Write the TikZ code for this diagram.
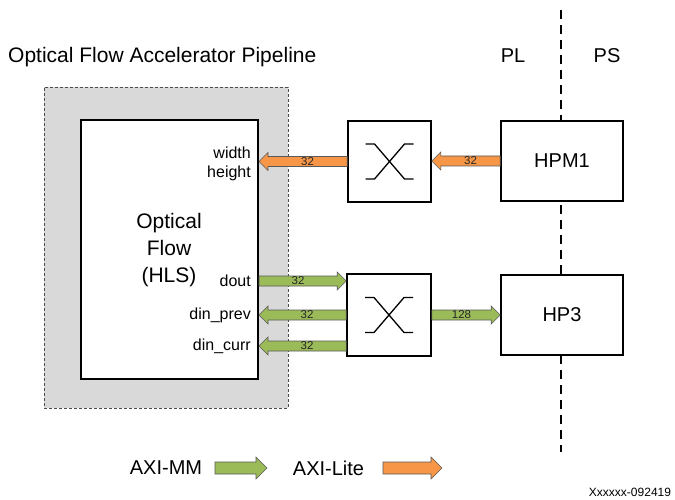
\documentclass[tikz,border=0pt]{standalone}
\usepackage{fontspec}
\setmainfont{Liberation Sans}
\usetikzlibrary{calc}

\definecolor{axigreen}{HTML}{9BBB59}
\definecolor{axiorange}{HTML}{F79646}
\definecolor{pipegrey}{HTML}{D9D9D9}

% sizes of the bus arrows
\newcommand{\shafthw}{5pt}
\newcommand{\headhw}{9pt}
\newcommand{\headlen}{9pt}

% bus arrow: colour, from, to, width label
\newcommand{\bus}[4]{%
  \draw[busline, fill=#1] let \p1=(#2), \p2=(#3),
      \n1={\x2>\x1 ? \x2-\headlen : \x2+\headlen} in
    (\x1,\y1+\shafthw) -- ({\n1+0pt},\y1+\shafthw) -- ({\n1+0pt},\y1+\headhw)
    -- (\x2,\y1) -- ({\n1+0pt},\y1-\headhw) -- ({\n1+0pt},\y1-\shafthw)
    -- (\x1,\y1-\shafthw) -- cycle
    ({(\x1+\n1)/2+0pt},\y1) node[buslabel] {#4};}

\tikzset{
  region/.style={draw=black!70, fill=pipegrey, line width=0.8pt, dash pattern=on 3pt off 2pt, inner sep=0},
  block/.style={draw, fill=white, line width=1.6pt, inner sep=0, font=\fontsize{20}{24}\selectfont},
  port/.style={anchor=east, inner sep=0, font=\fontsize{16}{19}\selectfont},
  buslabel/.style={inner sep=0, text=black!85, font=\fontsize{11.5}{13}\selectfont},
  busline/.style={draw=black!65, line width=0.6pt, line join=miter},
  xsym/.style={line width=1.3pt},
  big/.style={font=\fontsize{20}{24}\selectfont}
}

\begin{document}
\begin{tikzpicture}[x=1pt, y=-1pt]
\useasboundingbox (0,0) rectangle (675,500);

% accelerator pipeline
\node[big, anchor=west, inner sep=0, font=\fontsize{21}{25}\selectfont] (title) at (8,57) {Optical Flow Accelerator Pipeline};
\node[region, minimum width=244, minimum height=321] (pipe) at (166,247.5) {};
\node[block, line width=2pt, minimum width=177, minimum height=259] (of) at (169.5,249.5) {};
\node[align=center, font=\fontsize{21}{27}\selectfont] (ofname) at (169,250) {Optical\\Flow\\(HLS)};

% ports
\node[port] (lwidth) at (251,153) {width};
\node[port] (lheight) at (251,173) {height};
\node[port] (dout) at (251,281) {dout};
\node[port] (dinprev) at (251,315) {din\_prev};
\node[port] (dincurr) at (251,346) {din\_curr};

% PL / PS boundary
\coordinate (divtop) at (561,10);
\coordinate (divbot) at (561,452);
\draw[line width=1.8pt, dash pattern=on 9pt off 6pt] (divtop) -- (divbot);
\node[big] (pl) at (513,56) {PL};
\node[big] (ps) at (607,56) {PS};

% interconnects and ports of the PS
\node[block, minimum width=83, minimum height=81] (sw1) at (389.5,161.5) {};
\node[block, minimum width=84, minimum height=82] (sw2) at (389,315) {};
\node[block, minimum width=122, minimum height=80] (hpm) at (562,161) {HPM1};
\node[block, minimum width=122, minimum height=80] (hp3) at (562,315) {HP3};

\foreach \s in {sw1,sw2}{
  \begin{scope}[shift={(\s.center)}]
    \draw[xsym] (-24,-17.5) -- (-15,-17.5) -- (15,17.5) -- (24,17.5);
    \draw[xsym] (-24,17.5) -- (-15,17.5) -- (15,-17.5) -- (24,-17.5);
  \end{scope}}

% AXI-Lite
\bus{axiorange}{hpm.west}{sw1.east}{32}
\bus{axiorange}{sw1.west}{of.east |- sw1.west}{32}
% AXI-MM
\bus{axigreen}{of.east |- dout}{sw2.west |- dout}{32}
\bus{axigreen}{sw2.west |- dinprev}{of.east |- dinprev}{32}
\bus{axigreen}{sw2.west |- dincurr}{of.east |- dincurr}{32}
\bus{axigreen}{sw2.east}{hp3.west}{128}

% legend
\node[big] (axmm) at (166,468) {AXI-MM};
\node[big] (axlite) at (328.5,468) {AXI-Lite};
\coordinate (mmfrom) at (215,468);
\coordinate (mmto) at (267,468);
\coordinate (litefrom) at (383,468);
\coordinate (liteto) at (442,468);
\begin{scope}
  \renewcommand{\shafthw}{6pt}
  \renewcommand{\headhw}{11pt}
  \renewcommand{\headlen}{11pt}
  \bus{axigreen}{mmfrom}{mmto}{}
  \bus{axiorange}{litefrom}{liteto}{}
\end{scope}

\node[font=\fontsize{12}{14}\selectfont] (figid) at (630,492) {Xxxxxx-092419};
\end{tikzpicture}
\end{document}
